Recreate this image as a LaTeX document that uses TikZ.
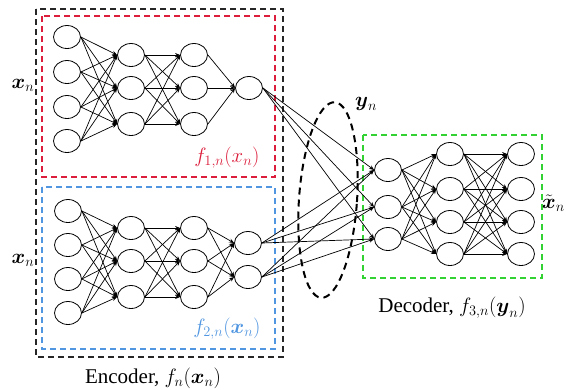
\documentclass[tikz,border=0pt]{standalone}
\usepackage{amsmath}
\usepackage[no-math]{fontspec}
\setmainfont{Liberation Serif}
\usetikzlibrary{arrows.meta,shapes.geometric}
\definecolor{encred}{RGB}{220,30,60}
\definecolor{encblue}{RGB}{80,150,225}
\definecolor{decgreen}{RGB}{50,210,50}
\begin{document}
\begin{tikzpicture}[x=1pt,y=-1pt,
  neuron/.style={draw,ellipse,line width=0.8pt,minimum width=27pt,minimum height=23pt,inner sep=0pt},
  conn/.style={line width=0.7pt,-{Stealth[length=5pt,width=4pt]}},
  dbox/.style={dash pattern=on 6pt off 4pt,line width=1.1pt},
  lbl/.style={font=\fontsize{21}{25}\selectfont,inner sep=0pt}]
\fill[white] (0,0) rectangle (566,389);
\useasboundingbox (0,0) rectangle (566,389);
% boxes
\draw[dbox,black!85] (36,9) rectangle (283,357);
\draw[dbox,encred] (42,16) rectangle (275,177);
\draw[dbox,encblue] (42,187) rectangle (275,349);
\draw[dbox,decgreen] (363,135) rectangle (542,278);
% top encoder
\foreach \i/\y in {1/37,2/72,3/107,4/141} \node[neuron] (a\i) at (67,\y) {};
\foreach \i/\y in {1/55,2/88,3/124} \node[neuron] (b\i) at (131,\y) {};
\foreach \i/\y in {1/55,2/88,3/124} \node[neuron] (c\i) at (194,\y) {};
\node[neuron] (d1) at (249,88) {};
% bottom encoder
\foreach \i/\y in {1/211,2/245,3/279,4/313} \node[neuron] (e\i) at (68,\y) {};
\foreach \i/\y in {1/228,2/261,3/297} \node[neuron] (g\i) at (131,\y) {};
\foreach \i/\y in {1/228,2/261,3/297} \node[neuron] (h\i) at (194,\y) {};
\foreach \i/\y in {1/243,2/277} \node[neuron] (k\i) at (248,\y) {};
% decoder
\foreach \i/\y in {1/170,2/207,3/239} \node[neuron] (p\i) at (388,\y) {};
\foreach \i/\y in {1/154,2/189,3/222,4/254} \node[neuron] (q\i) at (450,\y) {};
\foreach \i/\y in {1/154,2/189,3/222,4/254} \node[neuron] (r\i) at (521,\y) {};
% connections
\foreach \i in {1,...,4} \foreach \j in {1,...,3} \draw[conn] (a\i.east) -- (b\j.west);
\foreach \i in {1,...,3} \foreach \j in {1,...,3} \draw[conn] (b\i.east) -- (c\j.west);
\foreach \i in {1,...,3} \draw[conn] (c\i.east) -- (d1.west);
\foreach \i in {1,...,4} \foreach \j in {1,...,3} \draw[conn] (e\i.east) -- (g\j.west);
\foreach \i in {1,...,3} \foreach \j in {1,...,3} \draw[conn] (g\i.east) -- (h\j.west);
\foreach \i in {1,...,3} \foreach \j in {1,2} \draw[conn] (h\i.east) -- (k\j.west);
\foreach \j in {1,...,3} \draw[conn] (d1.east) -- (p\j.west);
\foreach \i in {1,2} \foreach \j in {1,...,3} \draw[conn] (k\i.east) -- (p\j.west);
\foreach \i in {1,...,3} \foreach \j in {1,...,4} \draw[conn] (p\i.east) -- (q\j.west);
\foreach \i in {1,...,4} \foreach \j in {1,...,4} \draw[conn] (q\i.east) -- (r\j.west);
% latent ellipse
\node[draw,ellipse,dash pattern=on 7pt off 5pt,line width=2pt,minimum width=58pt,minimum height=196pt,rotate=-4] (yell) at (328,200) {};
% labels
\node[lbl] (xa) at (23,85) {$\boldsymbol{x}_n$};
\node[lbl] (xb) at (23,260) {$\boldsymbol{x}_n$};
\node[lbl] (yn) at (366,104) {$\boldsymbol{y}_n$};
\node[lbl,anchor=east] (xt) at (565,203) {$\tilde{\boldsymbol{x}}_n$};
\node[lbl,text=encred] (f1) at (227,158) {$f_{1,n}(x_n)$};
\node[lbl,text=encblue] (f2) at (227,329) {$f_{2,n}(\boldsymbol{x}_n)$};
\node[lbl] (enc) at (153,378) {Encoder, $f_n(\boldsymbol{x}_n)$};
\node[lbl] (dec) at (452,308) {Decoder, $f_{3,n}(\boldsymbol{y}_n)$};
\end{tikzpicture}
\end{document}
